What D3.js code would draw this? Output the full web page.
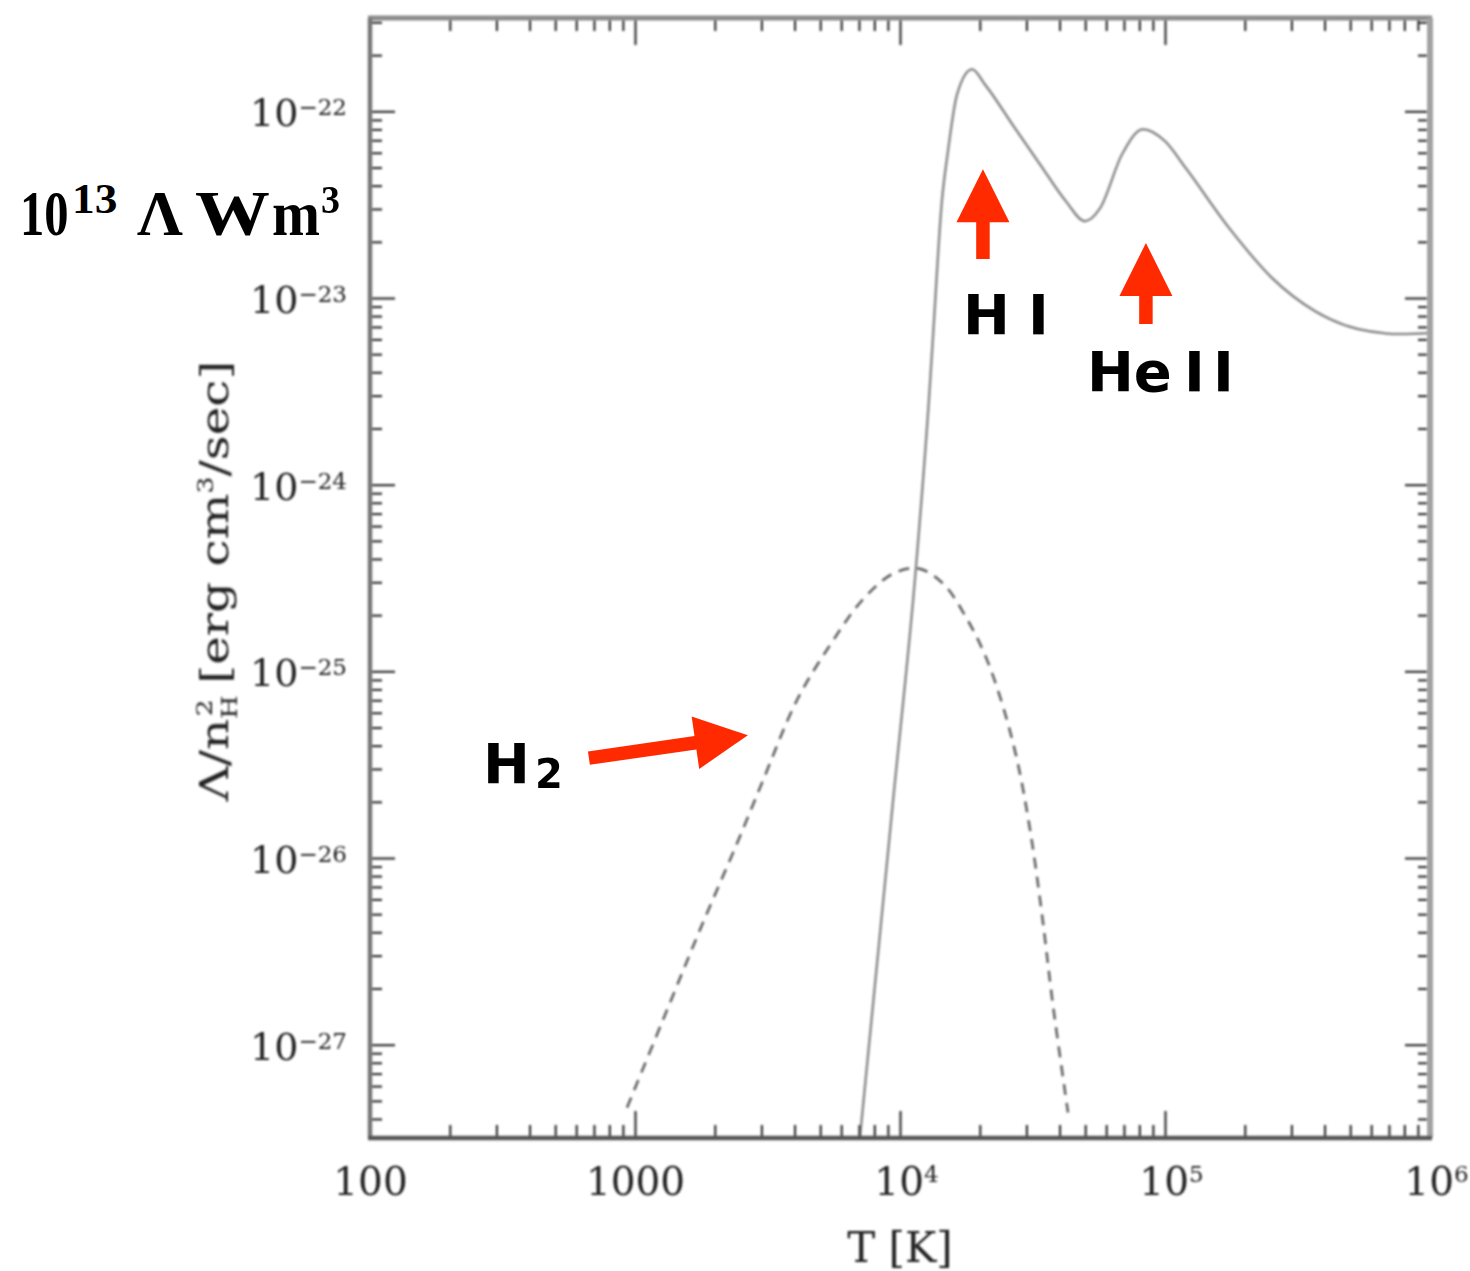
<!DOCTYPE html>
<html>
<head>
<meta charset="utf-8">
<script src="https://cdn.jsdelivr.net/npm/d3@7"></script>
<style>
  html, body { margin: 0; padding: 0; background: #fff; }
  svg { display: block; }
</style>
</head>
<body>
<svg id="chart" width="1470" height="1271"></svg>
<script>
// Cooling function Λ/n_H² versus temperature (log–log)

// Atomic H + He cooling (solid curve)
const atomicT = [7060, 9420, 11480, 12850, 13340, 14390, 15170, 16410, 18710, 20940, 27160, 33730,
  42270, 49890, 56890, 68870, 82600, 100000, 119950, 174600, 253500, 368100, 534600, 778000, 1000000];
const atomicLambda = [3.18e-28, 2.04e-26, 3.56e-25, 2.81e-24, 6.41e-24, 3.30e-23, 6.11e-23, 1.23e-22,
  1.68e-22, 1.39e-22, 8.11e-23, 5.21e-23, 3.30e-23, 2.58e-23, 3.03e-23, 5.89e-23, 8.02e-23, 6.92e-23,
  4.95e-23, 2.37e-23, 1.28e-23, 8.51e-24, 6.82e-24, 6.41e-24, 6.50e-24];

// Molecular hydrogen cooling (dashed curve)
const h2T = [933, 1276, 1758, 2427, 3013, 4083, 5495, 7194, 9419, 11695, 14521, 17742, 20941,
  24266, 27669, 30974, 34356, 37757, 43053];
const h2Lambda = [4.60e-28, 1.36e-27, 4.12e-27, 1.20e-26, 2.52e-26, 7.00e-26, 1.41e-25, 2.40e-25,
  3.34e-25, 3.56e-25, 2.96e-25, 1.95e-25, 1.22e-25, 6.75e-26, 3.34e-26, 1.41e-26, 4.95e-27,
  1.64e-27, 4.33e-28];

// Axis extents and labelled decades
const tDomain = [100, 1e6];
const lambdaDomain = [Math.pow(10, -27.5), Math.pow(10, -21.5)];
const xMajorTicks = [100, 1000, 1e4, 1e5, 1e6];
const yMajorTicks = [1e-27, 1e-26, 1e-25, 1e-24, 1e-23, 1e-22];

// Arrow annotations (tail -> tip, in data units)
const annotations = [
  { parts: [["H", 0], ["I", 65]], tail: [20560, 1.62e-23], tip: [20560, 4.90e-23], dx: -20, dy: 75 },
  { parts: [["He", 0], ["I", 97], ["I", 126]], tail: [84720, 7.26e-24], tip: [84720, 1.97e-23], dx: -59, dy: 67 },
  { parts: [["H", 0]], sub: "2", tail: [670, 3.43e-26], tip: [2667, 4.55e-26], dx: -106, dy: 25 }
];

const svg = d3.select("#chart");
const pLeft = 370, pRight = 1430, pTop = 18, pBottom = 1138;

const x = d3.scaleLog().domain(tDomain).range([pLeft, pRight]);
const y = d3.scaleLog().domain(lambdaDomain).range([pBottom, pTop]);

const isDecade = v => Math.abs(Math.log10(v) - Math.round(Math.log10(v))) < 1e-9;
const xMinor = x.ticks().filter(v => !isDecade(v));
const yMinor = y.ticks().filter(v => !isDecade(v));

// soft rendering for the plotted figure
const defs = svg.append("defs");
defs.append("filter").attr("id", "soft").attr("x", "-5%").attr("y", "-5%")
  .attr("width", "110%").attr("height", "110%")
  .append("feGaussianBlur").attr("stdDeviation", 0.85);
defs.append("clipPath").attr("id", "plotArea")
  .append("rect").attr("x", pLeft).attr("y", pTop).attr("width", pRight - pLeft).attr("height", pBottom - pTop);

const fig = svg.append("g").attr("filter", "url(#soft)");

// ---- curves ----
const curves = fig.append("g").attr("clip-path", "url(#plotArea)");
curves.append("path")
  .datum(atomicT.map((t, i) => [t, atomicLambda[i]]))
  .attr("d", d3.line().x(d => x(d[0])).y(d => y(d[1])).curve(d3.curveMonotoneX))
  .attr("fill", "none")
  .attr("stroke", "#8a8a8a").attr("stroke-width", 2.5);
curves.append("path")
  .datum(h2T.map((t, i) => [t, h2Lambda[i]]))
  .attr("d", d3.line().x(d => x(d[0])).y(d => y(d[1])).curve(d3.curveCatmullRom.alpha(0.5)))
  .attr("fill", "none")
  .attr("stroke", "#686868").attr("stroke-width", 2.7)
  .attr("stroke-dasharray", "11,8");

// ---- ticks on all four sides (pointing inward) ----
const tickColor = "#333";
function styleTicks(g) {
  g.select(".domain").remove();
  g.selectAll(".tick line").attr("stroke", tickColor).attr("stroke-width", 2.2);
}
const serif = "'DejaVu Serif', 'Liberation Serif', serif";

// bottom
fig.append("g").attr("transform", `translate(0,${pBottom})`)
  .call(d3.axisBottom(x).tickValues(xMinor).tickSize(-13).tickFormat(""))
  .call(styleTicks);
const bottomMajor = fig.append("g").attr("transform", `translate(0,${pBottom})`)
  .call(d3.axisBottom(x).tickValues(xMajorTicks).tickSize(-27).tickPadding(29)
    .tickFormat(d => d <= 1000 ? String(d) : "10^" + Math.round(Math.log10(d))))
  .call(styleTicks);
bottomMajor.selectAll(".tick text").each(function() {
  const t = d3.select(this);
  const s = t.text();
  t.attr("font-family", serif).attr("font-size", 39).attr("fill", "#222").attr("dy", "0.71em");
  if (s.startsWith("10^")) {
    t.text(null);
    t.append("tspan").text("10");
    t.append("tspan").text(s.slice(3)).attr("font-size", 23).attr("dy", "-13");
    t.attr("dx", 6);
  }
});

// top
fig.append("g").attr("transform", `translate(0,${pTop})`)
  .call(d3.axisTop(x).tickValues(xMinor).tickSize(-13).tickFormat(""))
  .call(styleTicks);
fig.append("g").attr("transform", `translate(0,${pTop})`)
  .call(d3.axisTop(x).tickValues(xMajorTicks).tickSize(-27).tickFormat(""))
  .call(styleTicks);

// left
fig.append("g").attr("transform", `translate(${pLeft},0)`)
  .call(d3.axisLeft(y).tickValues(yMinor).tickSize(-12).tickFormat(""))
  .call(styleTicks);
const leftMajor = fig.append("g").attr("transform", `translate(${pLeft},0)`)
  .call(d3.axisLeft(y).tickValues(yMajorTicks).tickSize(-25).tickPadding(23)
    .tickFormat(d => String(Math.round(Math.log10(d)))))
  .call(styleTicks);
leftMajor.selectAll(".tick text").each(function() {
  const t = d3.select(this);
  const e = t.text();
  t.text(null).attr("font-family", serif).attr("font-size", 38).attr("fill", "#222").attr("dy", "0.38em");
  t.append("tspan").text("10");
  t.append("tspan").text("\u2212" + e.replace("-", "")).attr("font-size", 23).attr("dy", "-11");
});

// right
fig.append("g").attr("transform", `translate(${pRight},0)`)
  .call(d3.axisRight(y).tickValues(yMinor).tickSize(-12).tickFormat(""))
  .call(styleTicks);
fig.append("g").attr("transform", `translate(${pRight},0)`)
  .call(d3.axisRight(y).tickValues(yMajorTicks).tickSize(-25).tickFormat(""))
  .call(styleTicks);

// ---- frame ----
const frame = fig.append("g").attr("fill", "none");
frame.append("line").attr("x1", pLeft - 2).attr("x2", pRight + 2).attr("y1", pTop).attr("y2", pTop)
  .attr("stroke", "#8c8c8c").attr("stroke-width", 5);
frame.append("line").attr("x1", pLeft).attr("x2", pLeft).attr("y1", pTop).attr("y2", pBottom)
  .attr("stroke", "#777").attr("stroke-width", 4.5);
frame.append("line").attr("x1", pRight).attr("x2", pRight).attr("y1", pTop).attr("y2", pBottom)
  .attr("stroke", "#a2a2a2").attr("stroke-width", 6);
frame.append("line").attr("x1", pLeft - 2).attr("x2", pRight + 2).attr("y1", pBottom).attr("y2", pBottom)
  .attr("stroke", "#555").attr("stroke-width", 4.5);

// ---- axis titles ----
fig.append("text")
  .attr("x", x(1e4)).attr("y", 1262)
  .attr("text-anchor", "middle").attr("font-family", serif).attr("font-size", 42).attr("fill", "#222")
  .text("T [K]");

const yTitle = fig.append("text")
  .attr("text-anchor", "middle").attr("font-family", serif).attr("font-size", 40).attr("fill", "#222");
yTitle.append("tspan").text("\u039B/n");
yTitle.append("tspan").text("H").attr("font-size", 22).attr("dy", 9);
yTitle.append("tspan").text("2").attr("font-size", 22).attr("dx", -17).attr("dy", -25);
yTitle.append("tspan").text(" [erg cm").attr("dy", 16);
yTitle.append("tspan").text("3").attr("font-size", 22).attr("dy", -15);
yTitle.append("tspan").text("/sec]").attr("dy", 15);
const titleLen = yTitle.node().getBBox().width || 442;
yTitle.attr("transform", `translate(228,581) rotate(-90) scale(${442 / titleLen},1)`);

// ---- annotations (crisp, on top) ----
const red = "#ff2a00";
function arrowPoints(x1, y1, x2, y2, shaftW, headL, headHalf) {
  const dx = x2 - x1, dy = y2 - y1, len = Math.hypot(dx, dy);
  const ux = dx / len, uy = dy / len, nx = -uy, ny = ux;
  const bx = x2 - ux * headL, by = y2 - uy * headL;
  const p = [
    [x1 + nx * shaftW / 2, y1 + ny * shaftW / 2],
    [bx + nx * shaftW / 2, by + ny * shaftW / 2],
    [bx + nx * headHalf, by + ny * headHalf],
    [x2, y2],
    [bx - nx * headHalf, by - ny * headHalf],
    [bx - nx * shaftW / 2, by - ny * shaftW / 2],
    [x1 - nx * shaftW / 2, y1 - ny * shaftW / 2]
  ];
  return p.map(q => q.join(",")).join(" ");
}
const ann = svg.append("g");
const sans = "'DejaVu Sans', Lato, sans-serif";
annotations.forEach(a => {
  const x1 = x(a.tail[0]), y1 = y(a.tail[1]), x2 = x(a.tip[0]), y2 = y(a.tip[1]);
  ann.append("polygon").attr("points", arrowPoints(x1, y1, x2, y2, 13.5, 53, 26.5)).attr("fill", red);
  const tx = x1 + a.dx, ty = y1 + a.dy;
  const t = ann.append("text").attr("font-family", sans).attr("font-weight", "bold")
    .attr("font-size", 56).attr("fill", "#000").attr("y", ty);
  a.parts.forEach(([s, off]) => t.append("tspan").attr("x", tx + off).text(s));
  if (a.sub) {
    t.append("tspan").attr("x", tx + 52).attr("dy", 5).attr("font-size", 40).text(a.sub);
  }
});

// conversion note: 10^13 Λ in W m^3
const note = svg.append("g").attr("font-family", "'Liberation Serif', 'Times New Roman', serif")
  .attr("font-weight", "bold").attr("fill", "#000");
function notePiece(s, px, py, size, sx) {
  note.append("text").attr("transform", `translate(${px},${py}) scale(${sx},1)`)
    .attr("font-size", size).text(s);
}
notePiece("10", 20, 235, 64, 0.76);
notePiece("13", 72, 213, 42, 1.08);
notePiece("\u039B", 137, 235, 64, 1.0);
notePiece("W", 195, 235, 64, 1.17);
notePiece("m", 272, 235, 64, 0.9);
notePiece("3", 321, 213, 40, 0.95);
</script>
</body>
</html>
